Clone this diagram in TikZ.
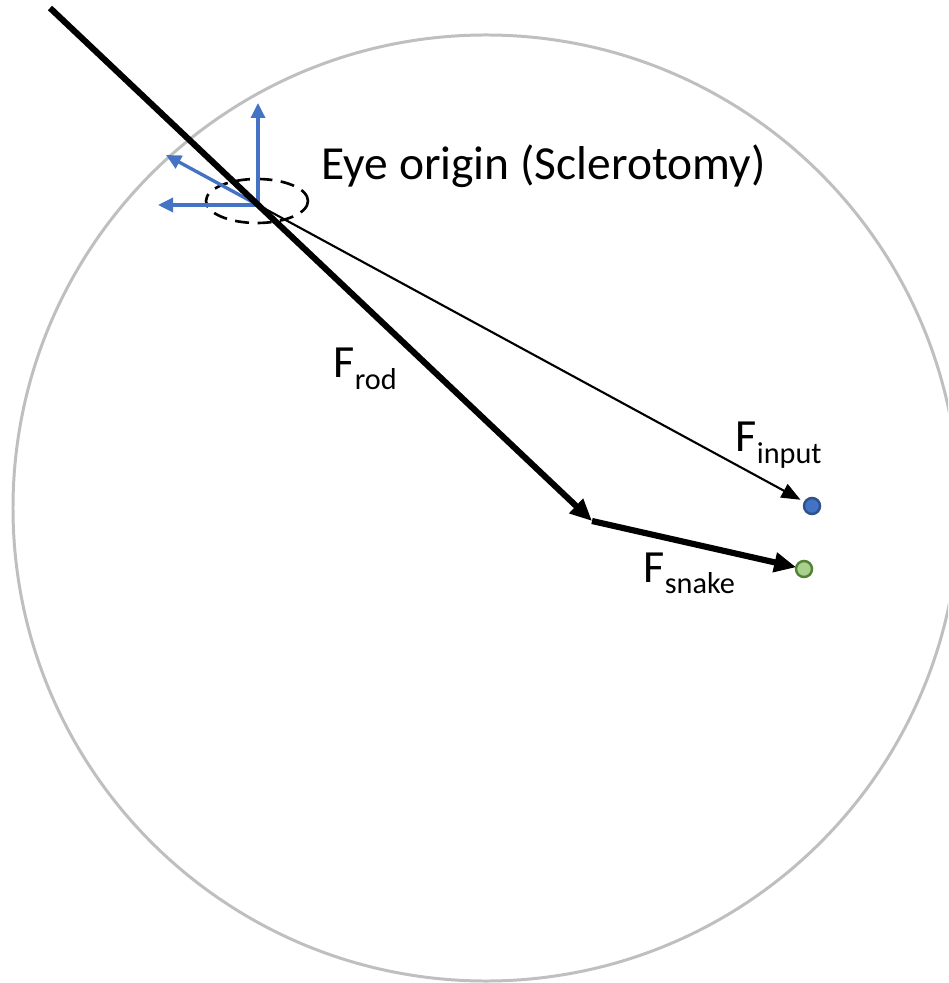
\documentclass[tikz,border=0pt]{standalone}
\usepackage{fontspec}
\setmainfont{Carlito}
\usetikzlibrary{arrows.meta}
\definecolor{eyegray}{HTML}{BFBFBF}
\definecolor{axisblue}{HTML}{4472C4}
\definecolor{dotblue}{HTML}{4472C4}
\definecolor{dotblueedge}{HTML}{2F528F}
\definecolor{dotgreen}{HTML}{A9D18E}
\definecolor{dotgreenedge}{HTML}{548235}
\newcommand{\Fsub}[1]{F\raisebox{-0.11cm}{\fontsize{8.6}{10}\selectfont #1}}
\begin{document}
\begin{tikzpicture}[x=0.01cm,y=-0.01cm,
  lbl/.style={inner sep=0pt, anchor=base west, font=\fontsize{13.1}{16}\selectfont},
  eyelbl/.style={inner sep=0pt, anchor=base west, font=\fontsize{13.5}{16}\selectfont},
  thickarrow/.style={line width=1.75pt, -{Triangle[length=0.22cm,width=0.19cm]}},
  thinarrow/.style={line width=0.6pt, -{Triangle[length=0.19cm,width=0.15cm]}},
  axisarrow/.style={axisblue, line width=0.95pt, -{Triangle[length=0.15cm,width=0.14cm]}},
  dot/.style={circle, inner sep=0pt, outer sep=0pt, minimum size=0.16cm, line width=0.7pt}]
\useasboundingbox (0,0) rectangle (948,983);
\begin{scope}
\clip (0,0) rectangle (948,983);
\draw[eyegray, line width=0.85pt] (486,508) circle[radius=473];
\end{scope}
% points
\coordinate (top) at (50,8);
\coordinate (O) at (258,205);
\coordinate (R) at (592,521);
\coordinate (ax1) at (258,103);
\coordinate (ax2) at (158,205);
\coordinate (ax3) at (166,155);
\node[dot, fill=dotblue, draw=dotblueedge] (B) at (812,506) {};
\node[dot, fill=dotgreen, draw=dotgreenedge] (G) at (804,569) {};
% sclerotomy ellipse
\draw[black, line width=0.75pt, dash pattern=on 0.14cm off 0.085cm] (257,201) ellipse[x radius=51, y radius=22];
% frame axes
\draw[axisarrow] (O) -- (ax1);
\draw[axisarrow] (O) -- (ax2);
\draw[axisarrow] (O) -- (ax3);
% forces
\draw[thinarrow, shorten >=0.05cm] (O) -- (B);
\draw[thickarrow] (top) -- (R);
\draw[thickarrow] (R) -- (G);
% labels
\node[eyelbl] (eye) at (321,180) {Eye origin (Sclerotomy)};
\node[lbl] (frod) at (333,378) {\Fsub{rod}};
\node[lbl] (finput) at (735,452) {\Fsub{input}};
\node[lbl] (fsnake) at (643,582) {\Fsub{snake}};
\end{tikzpicture}
\end{document}
